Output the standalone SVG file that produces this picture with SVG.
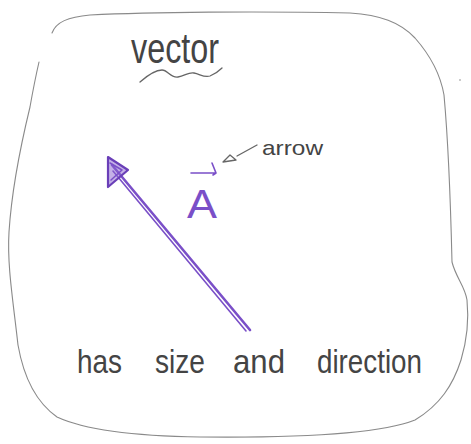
<svg xmlns="http://www.w3.org/2000/svg" width="471" height="444" viewBox="0 0 471 444">
<style>
.pencil{fill:none;stroke:#8a8a8a;stroke-width:1.1;stroke-linecap:round;stroke-linejoin:round}
.ink{font-family:"Liberation Sans","DejaVu Sans",sans-serif;fill:#444}
.pen{fill:none;stroke:#7a4fc8;stroke-linecap:round;stroke-linejoin:round}
.gray{fill:none;stroke:#666;stroke-width:1.3;stroke-linecap:round;stroke-linejoin:round}
</style>
<rect width="471" height="444" fill="#fff"/>
<g id="outline">
<path class="pencil" d="M52,33 C56,22 68,17 90,15 C150,12 260,11 350,13 C380,15 400,22 415,38 C430,55 440,72 444,95 C449,150 451,220 452,262 C456,278 465,286 467,300 C469,320 467,340 461,360 C453,385 440,405 415,420 C380,434 300,438 200,437 C130,436 85,430 57,417 C40,405 25,385 18,345 C13,300 7,265 9,232 C12,185 22,140 30,107 C33,90 36,75 39,62"/>
<circle cx="460" cy="80" r="0.8" fill="#888"/>
</g>
<g id="title">
<text class="ink" x="131" y="63" font-size="42" textLength="88" lengthAdjust="spacingAndGlyphs">vector</text>
<path class="gray" d="M140,82 C148,75 155,70 162,70 C168,70 170,78 178,77 C185,76 188,72 194,73 C200,74 204,78 210,76 C215,74 219,71 222,68"/>
</g>
<g id="vector">
<path class="pen" stroke-width="2.6" d="M250,330 L112,165"/>
<path class="pen" stroke-width="1.6" d="M246,331 L113,171"/>
<path d="M108,157 L128,170 L108,187 Z" fill="#8a63d0" fill-opacity="0.5" stroke="#6a3fb8" stroke-width="2.2" stroke-linejoin="round"/>
<path class="pen" stroke-width="1.5" d="M110,163 L122,170 L111,180"/>
</g>
<g id="label-A">
<text x="187" y="218" font-family="'Liberation Sans','DejaVu Sans',sans-serif" font-size="40" fill="#7a4fc8" textLength="30" lengthAdjust="spacingAndGlyphs">A</text>
<path class="pen" stroke-width="1.6" d="M191,173 L215,173 M212,163 L216,173 L213,175"/>
</g>
<g id="annotation">
<path class="gray" d="M223,162 L230,155 L236,160 Z M237,156 L257,145"/>
<text class="ink" x="262" y="155" font-size="21" textLength="61" lengthAdjust="spacingAndGlyphs">arrow</text>
</g>
<g id="caption">
<text class="ink" x="77" y="373" font-size="33" textLength="45" lengthAdjust="spacingAndGlyphs">has</text>
<text class="ink" x="155" y="373" font-size="33" textLength="50" lengthAdjust="spacingAndGlyphs">size</text>
<text class="ink" x="233" y="373" font-size="33" textLength="52" lengthAdjust="spacingAndGlyphs">and</text>
<text class="ink" x="317" y="373" font-size="33" textLength="105" lengthAdjust="spacingAndGlyphs">direction</text>
</g>
</svg>
